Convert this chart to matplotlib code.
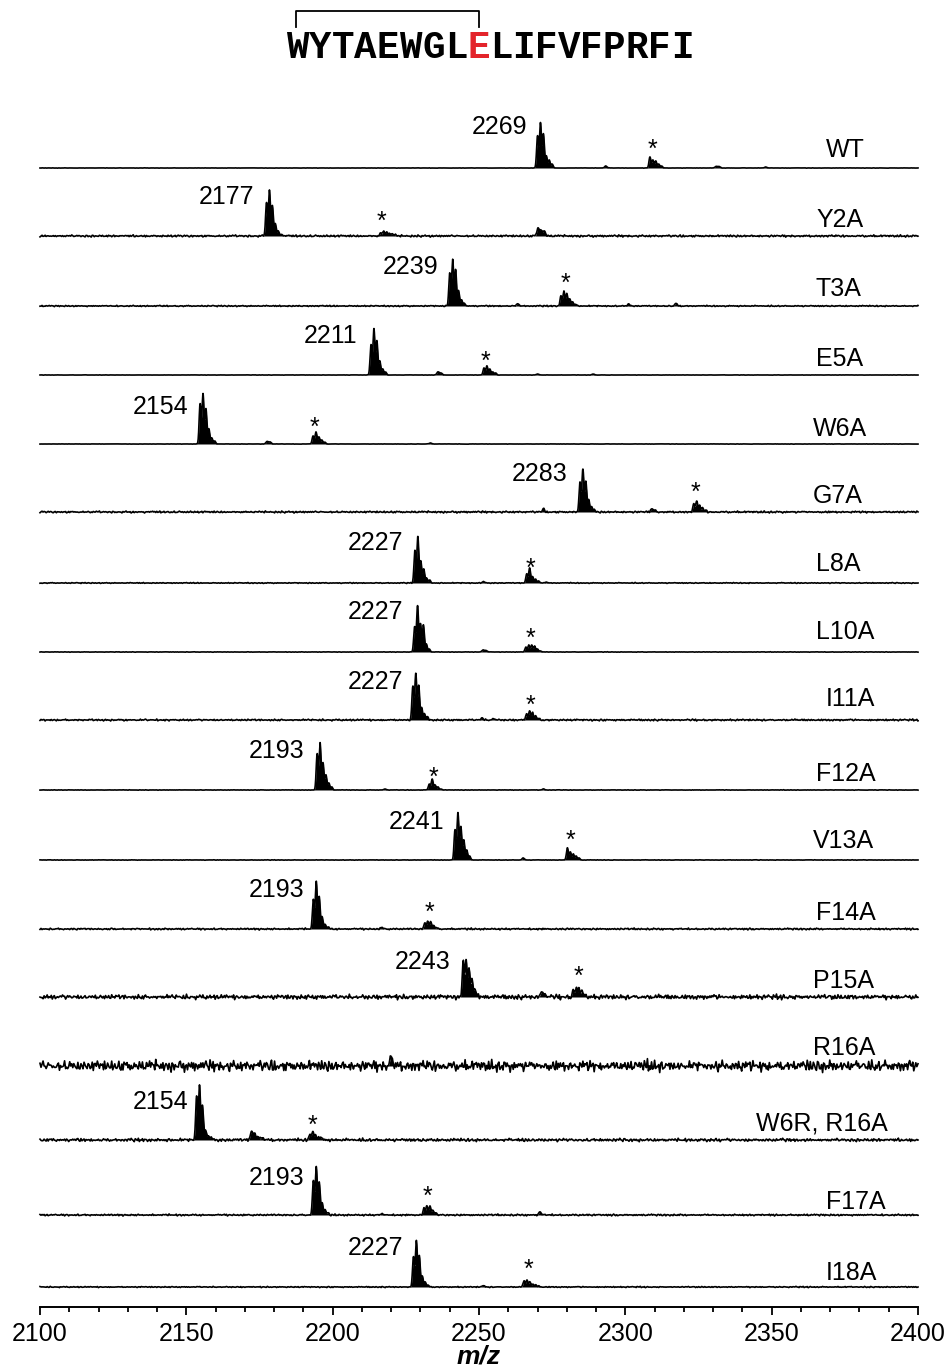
import numpy as np
import matplotlib
matplotlib.use("Agg")
import matplotlib.pyplot as plt
from matplotlib.lines import Line2D

plt.rcParams['font.family'] = ['Liberation Sans', 'DejaVu Sans']

# ---------------- data ----------------
SAMPLES = ["WT", "Y2A", "T3A", "E5A", "W6A", "G7A", "L8A", "L10A", "I11A",
           "F12A", "V13A", "F14A", "P15A", "R16A", "W6R, R16A", "F17A", "I18A"]

MASS_LABELS = [2269, 2177, 2239, 2211, 2154, 2283, 2227, 2227, 2227,
               2193, 2241, 2193, 2243, None, 2154, 2193, 2227]

# first isotope peak m/z of the main cluster and isotope intensities (1 Da spacing)
MAIN_START = [2270.0, 2177.4, 2240.0, 2213.1, 2154.7, 2284.5, 2228.1, 2228.0, 2227.4,
              2194.7, 2241.8, 2193.4, 2244.6, None, 2153.5, 2193.4, 2227.6]
MAIN_HEIGHTS = [
    [32, 45, 34, 12, 8, 4],
    [33, 45, 30, 12, 5, 2],
    [33, 46, 36, 15, 6, 3],
    [30, 46, 34, 14, 6, 3],
    [40, 50, 35, 15, 6, 3],
    [30, 43, 30, 12, 5, 2],
    [32, 46, 22, 14, 5, 3],
    [25, 46, 28, 27, 8, 3],
    [34, 46, 34, 12, 6, 3],
    [36, 47, 27, 15, 7, 3],
    [30, 47, 33, 20, 10, 4],
    [30, 47, 32, 12, 5, 2],
    [38, 38, 30, 18, 8, 3],
    [],
    [43, 54, 35, 10, 5, 3],
    [34, 48, 33, 12, 5, 2],
    [30, 46, 31, 11, 5, 2],
]

# adduct (*) cluster
STAR_START = [2308.4, 2216.4, 2278.0, 2251.7, 2193.3, 2323.4, 2266.3, 2266.0, 2266.3,
              2233.0, 2280.2, 2231.5, 2282.2, None, 2192.2, 2231.2, 2265.4]
STAR_HEIGHTS = [
    [11, 8, 7, 4, 2],
    [3, 5, 4, 3, 2, 1],
    [10, 15, 12, 7, 4, 2],
    [7, 9, 6, 3, 2],
    [8, 12, 7, 4, 2],
    [8, 11, 6, 4, 2],
    [9, 15, 6, 4, 2],
    [5, 7, 7, 6, 3, 1],
    [6, 9, 7, 4, 2],
    [6, 11, 5, 3, 1],
    [12, 8, 6, 4, 2],
    [6, 8, 7, 4, 1],
    [7, 10, 8, 6, 3],
    [],
    [6, 9, 5, 3, 2],
    [7, 9, 9, 5, 2],
    [6, 7, 5, 3, 2, 1],
]

# small extra peaks (m/z, intensity)
MINOR_PEAKS = [
    [(2293.3, 2.0), (2331.0, 1.5), (2332.0, 1.5), (2348.0, 1.0)],
    [(2270.2, 8.0), (2271.2, 6.0), (2272.3, 5.0)],
    [(2263.3, 2.5), (2301.1, 2.0), (2317.3, 2.5)],
    [(2236.0, 3.0), (2237.0, 2.0), (2270.0, 1.0), (2289.0, 1.0)],
    [(2177.6, 2.5), (2178.6, 2.0), (2233.4, 1.0)],
    [(2272.0, 3.0), (2309.0, 3.0), (2310.0, 2.0)],
    [(2251.5, 1.5), (2273.0, 1.0)],
    [(2251.4, 2.0), (2252.4, 1.5)],
    [(2251.0, 2.0), (2255.0, 1.5)],
    [(2217.9, 1.0), (2272.0, 1.0)],
    [(2265.1, 2.0)],
    [(2216.7, 1.5)],
    [(2271.4, 5.0), (2272.4, 3.0)],
    [(2220.0, 11.0)],
    [(2172.3, 9.0), (2173.3, 6.0), (2174.5, 4.0), (2176.0, 3.0)],
    [(2270.8, 3.0), (2217.0, 1.0)],
    [(2251.4, 1.5)],
]

NOISE_LEVEL = [0.2, 1.3, 0.8, 0.2, 0.2, 1.2, 0.6, 0.3, 1.1,
               0.3, 0.3, 1.1, 3.0, 7.0, 2.0, 1.1, 0.7]

# hand-made baseline texture patterns
NOISE_A = [0.2, -0.4, 0.7, -0.1, -0.8, 0.3, 0.0, -0.5, 0.9, -0.3, 0.1, -0.7, 0.4, 0.8, -0.2, -0.6, 0.5, -0.9, 0.3, 0.1,
           -0.4, 0.6, -0.1, -0.3, 1.0, -0.5, 0.2, -0.8, 0.4, 0.0, -0.2, 0.7, -0.6, 0.3, -0.1, 0.5, -0.9, 0.2, 0.6, -0.3,
           0.1, -0.5, 0.8, -0.2, -0.4, 0.3, -0.7, 0.5, 0.0, -0.1, 0.9, -0.6, 0.2, -0.3, 0.4, -0.8, 0.1, 0.6, -0.4, 0.2,
           -0.1, -0.7, 0.5, 0.3, -0.5, 0.8, -0.2, 0.0, -0.9, 0.4, 0.1, -0.3, 0.7, -0.6, 0.2, -0.1, 0.5, -0.4, 0.9, -0.2,
           0.3, -0.8, 0.1, 0.6, -0.5, 0.2, -0.3, 0.4, -0.1]
NOISE_B = [-0.3, 0.5, 0.1, -0.6, 0.4, -0.2, 0.8, -0.5, 0.0, 0.3, -0.7, 0.6, -0.1, 0.2, -0.4, 0.9, -0.3, 0.1, -0.8, 0.5,
           0.2, -0.2, 0.6, -0.6, 0.0, 0.4, -0.5, 0.7, -0.1, 0.3, -0.9, 0.2, 0.5, -0.4, 0.1, -0.2, 0.8, -0.7, 0.3, 0.0,
           -0.3, 0.6, -0.5, 0.2, 0.4, -0.1, -0.6, 0.7, -0.2, 0.1, 0.5, -0.8, 0.3]

X_TICKS = [2100, 2150, 2200, 2250, 2300, 2350, 2400]
SEQUENCE = "WYTAEWGLELIFVFPRFI"
HIGHLIGHT = 8  # index of red residue

# ---------------- layout (pixels) ----------------
W, H = 952, 1369
AX_L, AX_R, AX_B, AX_T = 40, 918, 1307, 80
BASE_PX = [168, 236, 306, 375, 444, 512, 583, 652, 720, 790, 860, 929, 997, 1066, 1140, 1215, 1287]
NAME_X = [826, 816, 816, 816, 813, 813, 816, 816, 826, 816, 813, 816, 813, 813, 756, 826, 826]
NAME_Y = [148, 218, 287, 357, 427, 494, 562, 630, 697, 772, 839, 911, 979, 1046, 1122, 1200, 1271]
MASS_RX = [527, 254, 438, 357, 188, 568, 403, 403, 403, 304, 444, 304, 451, None, 188, 304, 403]
MASS_Y = [125, 195, 265, 334, 405, 472, 541, 610, 680, 749, 820, 888, 960, None, 1100, 1176, 1246]
STAR_X = [652, 381, 565, 485, 314, 695, 530, 530, 530, 433, 570, 429, 578, None, 312, 427, 528]
STAR_Y = [143, 215, 277, 355, 421, 486, 562, 632, 699, 771, 834, 906, 970, None, 1119, 1190, 1263]

FS = 18
CAP = 0.716 * FS * 100 / 72.0

fig = plt.figure(figsize=(W / 100, H / 100), dpi=100)
ax = fig.add_axes([AX_L / W, (H - AX_B) / H, (AX_R - AX_L) / W, (AX_B - AX_T) / H])
ax.set_xlim(2100, 2400)
ax.set_ylim(0, AX_B - AX_T)


def px_x(px):
    return 2100 + (px - AX_L) / (AX_R - AX_L) * 300.0


def py_y(py):
    return AX_B - py


mz = np.arange(2100, 2400.0001, 0.05)
nz = np.arange(2100, 2400.4, 0.35)


def cluster(start, heights, sigma=0.32):
    y = np.zeros_like(mz)
    for j, h in enumerate(heights):
        y += h * np.exp(-0.5 * ((mz - (start + j)) / sigma) ** 2)
    return y


for i, name in enumerate(SAMPLES):
    base = py_y(BASE_PX[i])
    sig = np.zeros_like(mz)
    if MAIN_START[i] is not None:
        sig += cluster(MAIN_START[i], MAIN_HEIGHTS[i])
    if STAR_START[i] is not None:
        sig += cluster(STAR_START[i], STAR_HEIGHTS[i])
    for (m, h) in MINOR_PEAKS[i]:
        sig += h * np.exp(-0.5 * ((mz - m) / 0.4) ** 2)
    k = np.arange(len(nz))
    nvals = NOISE_LEVEL[i] * (0.6 * np.take(NOISE_A, (k + 11 * i) % len(NOISE_A))
                              + 0.5 * np.take(NOISE_B, (3 * k + 7 * i) % len(NOISE_B)))
    noise = np.interp(mz, nz, nvals)
    ax.fill_between(mz, base, base + sig, color='black', lw=0, clip_on=False)
    ax.plot(mz, base + sig + noise, color='black', lw=1.2, clip_on=False)

    ax.text(px_x(NAME_X[i]), py_y(NAME_Y[i] + CAP / 2), name, ha='left', va='baseline',
            fontsize=FS, color='black')
    if MASS_LABELS[i] is not None:
        ax.text(px_x(MASS_RX[i]), py_y(MASS_Y[i] + CAP / 2), str(MASS_LABELS[i]),
                ha='right', va='baseline', fontsize=FS, color='black')
    if STAR_X[i] is not None:
        ax.text(px_x(STAR_X[i]), py_y(STAR_Y[i] + 14), '*', ha='center', va='baseline',
                fontsize=FS, color='black')

for s in ['left', 'right', 'top']:
    ax.spines[s].set_visible(False)
ax.spines['bottom'].set_linewidth(1.4)
ax.set_yticks([])
ax.set_xticks(X_TICKS)
ax.set_xticks(np.arange(2100, 2401, 10), minor=True)
ax.tick_params(axis='x', which='major', direction='out', length=5.8, width=1.3,
               labelsize=FS, pad=5)
ax.tick_params(axis='x', which='minor', direction='out', length=3.6, width=1.3)
ax.patch.set_alpha(0)

fig.text(479 / W, 1 - 1363 / H, 'm/z', ha='center', va='baseline', fontsize=19,
         style='italic', weight='bold')

# sequence with bracket
x0, pitch = 286.5, 22.6
for j, ch in enumerate(SEQUENCE):
    fig.text((x0 + (j + 0.5) * pitch) / W, 1 - 58 / H, ch, ha='center', va='baseline',
             family='Liberation Mono', weight='bold', fontsize=27,
             color='#e3242b' if j == HIGHLIGHT else 'black')
bx = [296, 296, 479, 479]
by = [27, 11, 11, 27]
fig.add_artist(Line2D([v / W for v in bx], [1 - v / H for v in by], transform=fig.transFigure,
                      color='black', lw=1.3))

fig.savefig('out.png', dpi=100)
